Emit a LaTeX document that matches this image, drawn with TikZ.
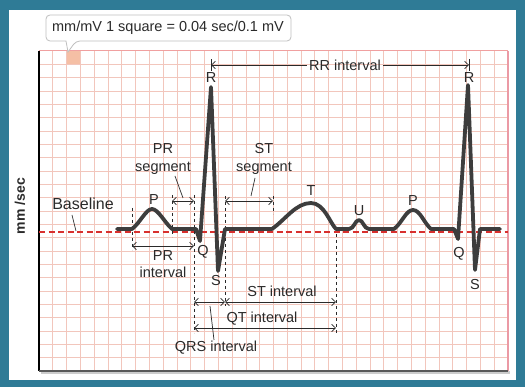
\documentclass[tikz,border=0pt]{standalone}
\usepackage{fontspec}
\setmainfont{Liberation Sans}
\usetikzlibrary{arrows.meta}
\definecolor{tealbg}{HTML}{2F7B96}
\definecolor{gridc}{HTML}{F2C6BC}
\definecolor{hisq}{HTML}{F5BFA5}
\definecolor{redline}{HTML}{D8302E}
\definecolor{tracec}{HTML}{3D3D3D}
\definecolor{txt}{HTML}{2A2A2A}
\definecolor{topb}{HTML}{F0A0A0}
\definecolor{rightb}{HTML}{EB9AA5}
\tikzset{
  gridline/.style={gridc, line width=0.65pt},
  lbl/.style={font=\fontsize{14.5}{17}\selectfont, text=txt, inner sep=0pt, align=center},
  vdash/.style={txt, line width=0.7pt, dash pattern=on 3.5pt off 2.5pt},
  dimline/.style={txt, line width=0.7pt, {Straight Barb[length=3.8pt,width=7.5pt]}-{Straight Barb[length=3.8pt,width=7.5pt]}},
  leader/.style={txt, line width=0.7pt},
  ecg/.style={tracec, line width=3.8pt, line join=round, line cap=round},
}
\begin{document}
\begin{tikzpicture}[x=1pt,y=-1pt]
\useasboundingbox (0,0) rectangle (525,387);
\fill[tealbg] (0,0) rectangle (525,387);
\fill[white] (9,10) rectangle (516,380);
% grid
\fill[hisq] (66.6,51) rectangle (80.4,64.3);
\foreach \i in {1,...,33} \draw[gridline] ({39+13.79*\i},51) -- ({39+13.79*\i},371);
\foreach \j in {1,...,23} \draw[gridline] (39,{51+13.333*\j}) -- (508,{51+13.333*\j});
\fill[black!20] (41,371) rectangle (510,374);
\draw[topb, line width=1pt] (39,51) -- (508,51);
\draw[rightb, line width=1.5pt] (508,51) -- (508,371);
\draw[black, line width=1.1pt] (39,51) -- (39,371);
\draw[black!65, line width=1.6pt] (39,371) -- (508,371);
% callout
\draw[fill=white, draw=black!25, line width=0.8pt, rounded corners=4pt]
  (46,15) -- (291,15) -- (291,41) -- (76,41) [sharp corners] -- (68,52) -- (66,41) [rounded corners=4pt] -- (46,41) -- cycle;
\node[lbl] (scale) at (168,28) {mm/mV 1 square = 0.04 sec/0.1 mV};
% axis label
\node[lbl, font=\fontsize{14}{16}\selectfont\bfseries, rotate=90] (axis) at (20,206) {mm /sec};
% baseline
\coordinate (bl0) at (39,232);
\coordinate (bl1) at (508,232);
\draw[redline, line width=1.4pt, dash pattern=on 6pt off 3.5pt] (bl0) -- (bl1);
% dashed verticals
\coordinate (v1a) at (132,208); \coordinate (v1b) at (132,250);
\coordinate (v2a) at (172,195); \coordinate (v2b) at (172,237);
\coordinate (v3a) at (194,195); \coordinate (v3b) at (194,333);
\coordinate (v4a) at (225,196); \coordinate (v4b) at (225,306);
\coordinate (v5a) at (273,196); \coordinate (v5b) at (273,214);
\coordinate (v6a) at (336,228); \coordinate (v6b) at (336,333);
\foreach \v in {1,...,6} \draw[vdash] (v\v a) -- (v\v b);
% ECG trace
\draw[ecg] (117,229) -- (132,229)
  .. controls (140,223) and (146,209) .. (152,209)
  .. controls (158,209) and (165,223) .. (172,229)
  -- (196,229) -- (200,241) -- (211,87) -- (218,271) -- (225,229) -- (272,229)
  .. controls (286,219) and (296,203) .. (311,203)
  .. controls (324,203) and (330,223) .. (336,229)
  -- (349,229) .. controls (354,229) and (355,220) .. (359,220)
  .. controls (363,220) and (364,229) .. (369,229)
  -- (394,229) .. controls (402,223) and (406,210) .. (413,210)
  .. controls (420,210) and (424,223) .. (431,229)
  -- (454,229) -- (458,239) -- (468,85) -- (475,270) -- (480,229) -- (500,229);
% wave labels
\node[lbl] (R1) at (211,78) {R};
\node[lbl] (R2) at (469,78) {R};
\node[lbl] (P1) at (154,200) {P};
\node[lbl] (Q1) at (203,252) {Q};
\node[lbl] (S1) at (216,281) {S};
\node[lbl] (T) at (311,191) {T};
\node[lbl] (U) at (359,211) {U};
\node[lbl] (P2) at (413,201) {P};
\node[lbl] (Q2) at (459,254) {Q};
\node[lbl] (S2) at (475,285) {S};
% RR interval
\node[lbl] (RR) at (345,65) {RR interval};
\coordinate (rrL) at (211,65); \coordinate (rrR) at (469,65);
\draw[txt, line width=0.7pt, {Straight Barb[length=3.8pt,width=7.5pt]}-] (rrL) -- ([xshift=-2pt]RR.west);
\draw[txt, line width=0.7pt, -{Straight Barb[length=3.8pt,width=7.5pt]}] ([xshift=2pt]RR.east) -- (rrR);
\draw[txt, line width=0.7pt] ([yshift=-6pt]rrL) -- ([yshift=6pt]rrL);
\draw[txt, line width=0.7pt] ([yshift=-6pt]rrR) -- ([yshift=6pt]rrR);
% segments
\coordinate (prsL) at (172,201); \coordinate (prsR) at (194,201);
\draw[dimline] (prsL) -- (prsR);
\coordinate (stsL) at (225,201); \coordinate (stsR) at (273,201);
\draw[dimline] (stsL) -- (stsR);
\node[lbl, font=\fontsize{14.5}{18}\selectfont] (PRseg) at (163,159) {PR\\segment};
\node[lbl, font=\fontsize{14.5}{18}\selectfont] (STseg) at (264,159) {ST\\segment};
\coordinate (prl1) at (175,176); \coordinate (prl2) at (183,198);
\draw[leader] (prl1) -- (prl2);
\coordinate (stl1) at (255,178); \coordinate (stl2) at (251,196);
\draw[leader] (stl1) -- (stl2);
% intervals
\coordinate (priL) at (132,246); \coordinate (priR) at (194,246);
\draw[dimline] (priL) -- (priR);
\node[lbl] (PRint) at (163,264) {PR\\interval};
\coordinate (qrsL) at (194,302); \coordinate (qrsR) at (225,302);
\draw[dimline] (qrsL) -- (qrsR);
\coordinate (stiL) at (225,302); \coordinate (stiR) at (336,302);
\draw[dimline] (stiL) -- (stiR);
\node[lbl] (STint) at (282,291) {ST interval};
\coordinate (qtL) at (194,328); \coordinate (qtR) at (336,328);
\draw[dimline] (qtL) -- (qtR);
\node[lbl] (QTint) at (262,319) {QT interval};
\node[lbl] (QRSint) at (216,348) {QRS interval};
\coordinate (qrl1) at (210,306); \coordinate (qrl2) at (214,340);
\draw[leader] (qrl1) -- (qrl2);
% baseline label
\node[lbl, font=\fontsize{16}{18}\selectfont] (BL) at (83,204) {Baseline};
\coordinate (bll1) at (72,215); \coordinate (bll2) at (76,231);
\draw[leader] (bll1) -- (bll2);
\end{tikzpicture}
\end{document}
